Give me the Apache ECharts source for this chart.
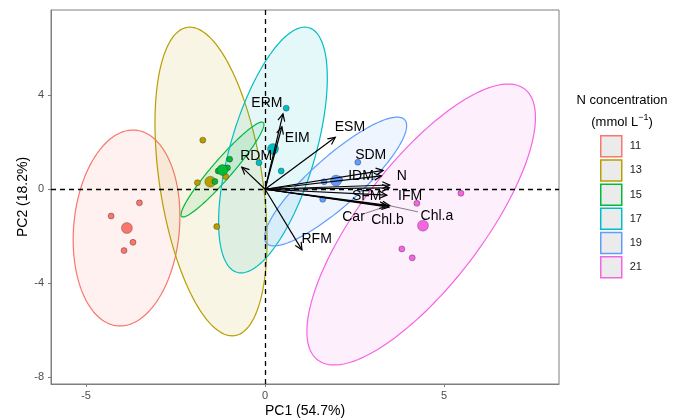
<!DOCTYPE html>
<html><head><meta charset="utf-8">
<script src="https://cdn.jsdelivr.net/npm/echarts@6/dist/echarts.min.js"></script>
<style>html,body{margin:0;padding:0;background:#fff}#c{width:688px;height:419px}</style>
</head><body><div id="c"></div>
<script>
// ---- data ----
const groups = ['11','13','15','17','19','21'];
const colors = ['#F8766D','#B79F00','#00BA38','#00BFC4','#619CFF','#F564E3'];
const pts11 = [[-3.51,-0.58],[-4.30,-1.14],[-3.69,-2.26],[-3.94,-2.61]];
const pts13 = [[-1.74,2.09],[-1.89,0.28],[-1.35,-1.59],[-1.10,0.54]];
const pts15 = [[-0.99,1.28],[-1.05,0.91],[-1.31,0.78],[-1.40,0.33]];
const pts17 = [[0.59,3.45],[0.28,1.76],[0.45,0.78],[-0.17,1.13]];
const pts19 = [[2.59,1.15],[1.65,0.32],[1.61,-0.43],[2.08,0.42]];
const pts21 = [[5.47,-0.17],[4.24,-0.60],[3.82,-2.54],[4.11,-2.92]];
const groupMeans = [[-3.86,-1.65],[-1.53,0.32],[-1.19,0.82],[0.22,1.71],[1.98,0.37],[4.41,-1.55]];
// confidence ellipses: centre and two conjugate semi-diameters (data units)
const ellCenter = [[-3.87,-1.65],[-1.51,0.33],[-1.19,0.84],[0.22,1.67],[1.97,0.33],[4.36,-1.50]];
const ellU = [[1.48,0],[1.45,0],[0.36,0],[1.23,0],[0.99,0],[2.07,0]];
const ellV = [[0.18,4.17],[-0.59,6.57],[1.10,2.02],[0.89,5.23],[1.72,2.74],[2.43,5.98]];
// variable loadings (arrows)
const varNames = ['ERM','EIM','ESM','RDM','RFM','SDM','IDM','N','IFM','SFM','Car','Chl.b','Chl.a'];
const loadX = [0.50,0.47,1.96,-0.65,1.03,3.30,3.25,3.48,3.47,3.40,3.40,3.46,3.48];
const loadY = [3.21,2.66,2.21,0.94,-2.58,0.80,0.57,0.18,0.06,-0.25,-0.72,-0.76,-0.70];
const labelX = [0.05,0.90,2.37,-0.25,1.44,2.95,2.68,3.82,4.05,2.84,2.47,3.42,4.80];
const labelY = [3.66,2.17,2.66,1.42,-2.13,1.46,0.57,0.57,-0.31,-0.31,-1.19,-1.31,-1.14];
const leader = [0,0,0,0,0,0,0,0,0,0,1,0,1];
const xTicks = [-5,0,5];
const yTicks = [-8,-4,0,4];
const xMin=-5.98, xMax=8.21, yMin=-8.29, yMax=7.63;
const allPts = [pts11,pts13,pts15,pts17,pts19,pts21];

function rgba(hex,a){const n=parseInt(hex.slice(1),16);return `rgba(${n>>16&255},${n>>8&255},${n&255},${a})`;}
const FONT = '"Liberation Sans", Arial, Helvetica, sans-serif';

const series = [];
series.push({
  type:'custom', z:1, silent:true,
  data: ellCenter.map(c=>[c[0],c[1]]),
  renderItem:(params,api)=>{
    const i=params.dataIndex, c=ellCenter[i], u=ellU[i], v=ellV[i];
    const pts=[];
    for(let k=0;k<160;k++){const t=2*Math.PI*k/160;
      pts.push(api.coord([c[0]+u[0]*Math.cos(t)+v[0]*Math.sin(t), c[1]+u[1]*Math.cos(t)+v[1]*Math.sin(t)]));}
    return {type:'polygon',shape:{points:pts},style:{fill:rgba(colors[i],0.1),stroke:colors[i],lineWidth:1.2}};
  }
});
series.push({
  type:'line', z:2, data:[], silent:true,
  markLine:{silent:true,symbol:'none',animation:false,label:{show:false},
    lineStyle:{color:'#000',type:[5,4],width:1.3},data:[{xAxis:0},{yAxis:0}]}
});
groups.forEach((g,i)=>{
  series.push({type:'scatter',name:g,z:3,data:allPts[i],symbolSize:6,
    itemStyle:{color:colors[i],borderColor:'rgba(0,0,0,0.5)',borderWidth:0.6,opacity:1}});
  series.push({type:'scatter',name:g,z:3,data:[groupMeans[i]],symbolSize:11,
    itemStyle:{color:colors[i],borderColor:'rgba(0,0,0,0.4)',borderWidth:0.6,opacity:1}});
});
series.push({
  type:'custom', z:4, silent:true,
  data: loadX.map((x,i)=>[x,loadY[i]]),
  renderItem:(params,api)=>{
    const s=api.coord([0,0]), e=api.coord([api.value(0),api.value(1)]);
    const ang=Math.atan2(e[1]-s[1],e[0]-s[0]), L=8, h=Math.PI/7;
    const p1=[e[0]-L*Math.cos(ang-h),e[1]-L*Math.sin(ang-h)];
    const p2=[e[0]-L*Math.cos(ang+h),e[1]-L*Math.sin(ang+h)];
    return {type:'group',children:[
      {type:'line',shape:{x1:s[0],y1:s[1],x2:e[0],y2:e[1]},style:{stroke:'#000',lineWidth:1.2}},
      {type:'polyline',shape:{points:[p1,e,p2]},style:{stroke:'#000',lineWidth:1.2,fill:null}}
    ]};
  }
});
series.push({
  type:'custom', z:5, silent:true,
  data: labelX.map((x,i)=>[x,labelY[i]]),
  renderItem:(params,api)=>{
    const i=params.dataIndex;
    const c=api.coord([api.value(0),api.value(1)]);
    const children=[{type:'text',x:c[0],y:c[1],style:{text:varNames[i],fill:'#000',font:'14px '+FONT,align:'center',verticalAlign:'middle'}}];
    if(leader[i]){
      const tip=api.coord([loadX[i],loadY[i]]);
      const dx=tip[0]-c[0], dy=tip[1]-c[1];
      const hw=varNames[i].length*3.6+1, hh=7;
      const t=Math.min(hw/Math.abs(dx||1e-6), hh/Math.abs(dy||1e-6));
      children.push({type:'line',shape:{x1:c[0]+dx*t,y1:c[1]+dy*t,x2:tip[0],y2:tip[1]},style:{stroke:'#333',lineWidth:0.6}});
    }
    return {type:'group',children};
  }
});

const chart = echarts.init(document.getElementById('c'),null,{renderer:'canvas'});
chart.setOption({
  animation:false,
  backgroundColor:'#fff',
  grid:{left:51,right:129,top:10,bottom:35,show:true,borderColor:'#7f7f7f',borderWidth:1,backgroundColor:'transparent',
    containLabel:false,outerBoundsMode:'none'},
  xAxis:{type:'value',min:xMin,max:xMax,splitLine:{show:false},
    axisLine:{show:true,onZero:false,lineStyle:{color:'#7f7f7f'}},
    axisTick:{show:true,length:3,customValues:xTicks,lineStyle:{color:'#7f7f7f'}},
    axisLabel:{customValues:xTicks,color:'#4d4d4d',fontSize:11,margin:6,fontFamily:FONT},
    name:'PC1 (54.7%)',nameLocation:'middle',nameGap:20,nameMoveOverlap:false,nameTextStyle:{fontSize:14,color:'#000',fontFamily:FONT}},
  yAxis:{type:'value',min:yMin,max:yMax,splitLine:{show:false},
    axisLine:{show:true,onZero:false,lineStyle:{color:'#7f7f7f'}},
    axisTick:{show:true,length:3,customValues:yTicks,lineStyle:{color:'#7f7f7f'}},
    axisLabel:{customValues:yTicks,color:'#4d4d4d',fontSize:11,margin:7,fontFamily:FONT},
    name:'PC2 (18.2%)',nameLocation:'middle',nameGap:21,nameMoveOverlap:false,nameRotate:90,nameTextStyle:{fontSize:14,color:'#000',fontFamily:FONT}},
  legend:{orient:'vertical',left:600,top:135,padding:0,itemWidth:21,itemHeight:21,itemGap:1.7,icon:'rect',selectedMode:false,
    textStyle:{fontSize:11,color:'#1a1a1a',fontFamily:FONT,padding:[0,0,0,3]},
    data:groups.map((g,i)=>({name:g,itemStyle:{color:'#ebebeb',borderColor:colors[i],borderWidth:1.5}}))},
  graphic:[
    {type:'text',x:622,y:100,style:{text:'N concentration',font:'13px '+FONT,fill:'#000',align:'center',verticalAlign:'middle'}},
    {type:'text',x:622,y:121,style:{text:'{a|(mmol L}{s|\u22121}{a|)}',align:'center',verticalAlign:'middle',
      rich:{a:{fontSize:13,fontFamily:FONT,fill:'#000',lineHeight:16,verticalAlign:'bottom'},
            s:{fontSize:9,fontFamily:FONT,fill:'#000',lineHeight:16,verticalAlign:'top',padding:[0,0,6,0]}}}}
  ],
  series
});
</script></body></html>
